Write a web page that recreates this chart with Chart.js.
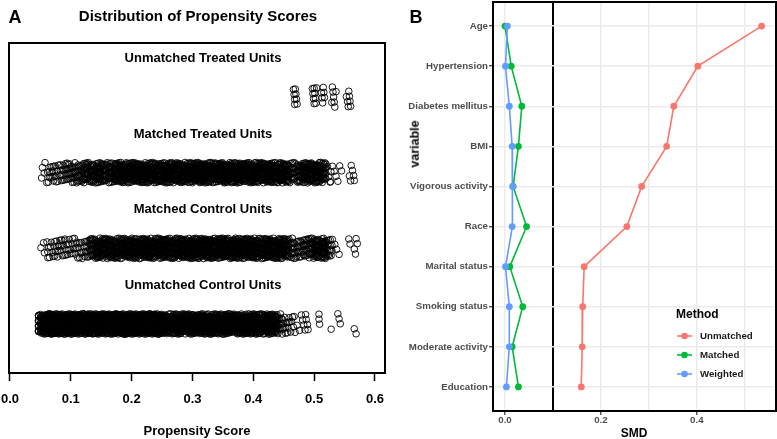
<!DOCTYPE html>
<html>
<head>
<meta charset="utf-8">
<script src="https://cdn.jsdelivr.net/npm/chart.js@4.4.0/dist/chart.umd.min.js"></script>
<style>
body{margin:0;background:#fff;font-family:"Liberation Sans",Arial,sans-serif;}
#wrap{position:relative;width:777px;height:439px;overflow:hidden;background:#fff;}
.pane{position:absolute;top:0;}
.t{position:absolute;white-space:nowrap;font-weight:bold;line-height:1;transform:translate(-50%,-50%);color:#000;}
</style>
</head>
<body>
<div id="wrap">
  <div class="pane" style="left:0;width:390px;height:439px"><canvas id="psChart" width="390" height="439"></canvas></div>
  <div class="pane" style="left:390px;width:387px;height:439px"><canvas id="smdChart" width="387" height="439"></canvas></div>
  <div class="t" style="left:15px;top:17px;font-size:18px">A</div>
  <div class="t" style="left:198px;top:15px;font-size:15px">Distribution of Propensity Scores</div>
  <div class="t" style="left:197px;top:430px;font-size:13px">Propensity Score</div>
  <div class="t" style="left:416px;top:17px;font-size:18px">B</div>
  <div class="t" style="left:634px;top:433px;font-size:12px">SMD</div>
  <div class="t" style="left:415px;top:144px;font-size:12.5px;transform:translate(-50%,-50%) rotate(-90deg)">variable</div>
</div>
<script>
// PANEL A - jittered propensity scores
// left edges of 0.01 wide bins
const psBins = [0.05,0.06,0.07,0.08,0.09,0.10,0.11,0.12,0.13,0.14,
                0.15,0.16,0.17,0.18,0.19,0.20,0.21,0.22,0.23,0.24,
                0.25,0.26,0.27,0.28,0.29,0.30,0.31,0.32,0.33,0.34,
                0.35,0.36,0.37,0.38,0.39,0.40,0.41,0.42,0.43,0.44,
                0.45,0.46,0.47,0.48,0.49,0.50,0.51,0.52];
// points per bin
const matchedTreatedCounts = [4,9,10,12,15,16,18,26,30,32, 24,26,34,36,34,36,38,36,34,36,
                              36,38,36,34,36,38,40,38,36,36, 38,40,38,36,38,36,34,36,34,36,
                              30,18,26,34,34,34,30,3];
const matchedControlCounts = [3,8,9,10,9,9,10,12,26,30, 32,34,34,32,34,36,34,34,36,34,
                              34,36,34,36,38,36,38,38,36,38, 36,38,36,36,38,36,34,36,34,34,
                              32,16,14,16,20,32,34,14];
const unmatchedControlCounts = [45,60,60,60,60,60,60,60,60,60, 60,60,60,60,60,60,60,60,60,56,
                                40,38,40,42,44,44,46,42,44,44, 46,42,40,44,46,44,42,44,40,14,
                                9,7,0,0,0,0,0,0];
// sparse points outside the bins
const unmatchedTreatedScores = [0.466,0.467,0.468,0.468,0.469,0.470,0.471,0.472,
                                0.497,0.498,0.499,0.500,0.500,0.501,0.502,0.503,0.504,
                                0.512,0.513,0.514,0.515,0.516,0.517,
                                0.529,0.530,0.531,0.532,0.533,0.534,0.536,
                                0.553,0.555,0.556,0.557,0.558,0.559,0.560];
const matchedTreatedExtra = [0.524,0.527,0.530,0.533,0.536,0.539,0.542,0.545,
                             0.558,0.560,0.561,0.563,0.565,0.566];
const matchedControlExtra = [0.530,0.534,0.537,0.541,0.557,0.559,0.566,0.568,0.569,0.571];
const unmatchedControlExtra = [0.047,0.047,0.047,0.047,0.047,0.047,0.047,0.047,0.047,0.047,0.047,0.047,
                               0.472,0.476,0.479,0.481,0.483,0.485,0.486,0.487,0.489,0.490,
                               0.508,0.508,0.509,0.528,0.539,0.541,0.543,0.566,0.569];
const psRows = ['Unmatched Control Units','Matched Control Units','Matched Treated Units','Unmatched Treated Units'];
const psTicks = [0.0,0.1,0.2,0.3,0.4,0.5,0.6];

// PANEL B - standardised mean differences
const varNames = ['Age','Hypertension','Diabetes mellitus','BMI','Vigorous activity',
                  'Race','Marital status','Smoking status','Moderate activity','Education'];
const smdUnmatched = [0.535,0.402,0.352,0.337,0.285,0.254,0.165,0.162,0.161,0.159];
const smdMatched   = [0.000,0.013,0.035,0.028,0.017,0.045,0.010,0.037,0.015,0.028];
const smdWeighted  = [0.005,0.001,0.009,0.015,0.016,0.015,0.001,0.009,0.009,0.003];
const methods = ['Unmatched','Matched','Weighted'];
const methodColors = ['#F8766D','#00BA38','#619CFF'];
const smdTicks = [0.0,0.1,0.2,0.3,0.4,0.5];

// deterministic jitter (R uses runif, we just spread them evenly)
const frac = v => v - Math.floor(v);
let k = 0;
function jit(row){ k++; return row + 0.135*(2*frac(0.5 + k*0.7548777) - 1); }
function rowPoints(row, counts, extra){
  const pts = [];
  counts.forEach((n,b)=>{
    for(let i=0;i<n;i++){
      const y = jit(row);
      pts.push({x: psBins[b] + 0.01*frac(0.5 + k*0.5698403), y});
    }
  });
  extra.forEach(v=>{ const y = jit(row); pts.push({x:v, y}); });
  return pts;
}

const psData = [
  rowPoints(1, unmatchedControlCounts, unmatchedControlExtra),
  rowPoints(2, matchedControlCounts, matchedControlExtra),
  rowPoints(3, matchedTreatedCounts, matchedTreatedExtra),
  rowPoints(4, [], unmatchedTreatedScores)
];

// no extra room for overhanging tick labels
const noPad = s => { s.paddingLeft = 0; s.paddingRight = 0; s.paddingTop = 0; s.paddingBottom = 0; };

const boxPlugin = {
  id:'box',
  afterDatasetsDraw(chart){
    const {ctx, chartArea:a} = chart;
    ctx.save();
    ctx.strokeStyle = '#000';
    ctx.lineWidth = 2;
    ctx.strokeRect(a.left, a.top, a.right-a.left, a.bottom-a.top);
    ctx.restore();
  }
};

const rowLabels = {
  id:'rowLabels',
  afterDraw(chart){
    const {ctx, chartArea:a, scales} = chart;
    ctx.save();
    ctx.font = 'bold 13px "Liberation Sans", Arial, sans-serif';
    ctx.fillStyle = '#000';
    ctx.textAlign = 'center';
    ctx.textBaseline = 'middle';
    psRows.forEach((r,i)=>{
      ctx.fillText(r, (a.left+a.right)/2 + 6, scales.y.getPixelForValue(i + 1.51));
    });
    ctx.restore();
  }
};

new Chart(document.getElementById('psChart'), {
  type:'scatter',
  data:{datasets: psData.map(d=>({
    data:d, pointRadius:3.3, pointBorderWidth:0.9,
    pointBorderColor:'#000', pointBackgroundColor:'rgba(0,0,0,0)'
  }))},
  options:{
    responsive:false, animation:false, devicePixelRatio:1,
    layout:{autoPadding:false, padding:{left:9, right:5, top:43, bottom:0}},
    plugins:{legend:{display:false}, tooltip:{enabled:false}},
    scales:{
      x:{type:'linear', min:-0.0016, max:0.6165,
        afterBuildTicks: s=>{ s.ticks = psTicks.map(v=>({value:v})); },
        afterFit: s=>{ s.height = 66; noPad(s); },
        border:{display:false},
        grid:{drawOnChartArea:false, drawTicks:true, tickLength:8, tickWidth:1.5, tickColor:'#000'},
        ticks:{color:'#000', padding:11, maxRotation:0, font:{family:'"Liberation Sans", Arial, sans-serif', size:13, weight:'bold'},
          callback: v=>v.toFixed(1)}
      },
      y:{type:'linear', display:false, min:0.352, max:4.714}
    }
  },
  plugins:[boxPlugin, rowLabels]
});

// legend drawn inside panel B
const methodLegend = {
  id:'methodLegend',
  afterDraw(chart){
    const ctx = chart.ctx;
    ctx.save();
    ctx.fillStyle = '#000';
    ctx.textBaseline = 'middle';
    ctx.textAlign = 'left';
    ctx.font = 'bold 12px "Liberation Sans", Arial, sans-serif';
    ctx.fillText('Method', 286, 315);
    ctx.font = 'bold 9.7px "Liberation Sans", Arial, sans-serif';
    methods.forEach((m,i)=>{
      const y = 336 + i*19;
      ctx.strokeStyle = methodColors[i];
      ctx.lineWidth = 1.6;
      ctx.beginPath(); ctx.moveTo(287,y); ctx.lineTo(302,y); ctx.stroke();
      ctx.fillStyle = methodColors[i];
      ctx.beginPath(); ctx.arc(294.5,y,3.3,0,Math.PI*2); ctx.fill();
      ctx.fillStyle = '#1a1a1a';
      ctx.fillText(m, 310, y);
    });
    ctx.restore();
  }
};

const smdSeries = [smdUnmatched, smdMatched, smdWeighted];
const isMajor = v => Math.abs(v*10 - Math.round(v*5)*2) < 1e-6;
const isCut = v => Math.abs(v - 0.1) < 1e-6;

new Chart(document.getElementById('smdChart'), {
  type:'line',
  data:{datasets: methods.map((m,i)=>({
    label:m,
    data: smdSeries[i].map((v,j)=>({x:v, y:j+1})),
    borderColor:methodColors[i], backgroundColor:methodColors[i],
    pointBackgroundColor:methodColors[i], pointBorderColor:methodColors[i],
    borderWidth:1.6, pointRadius:3.4, pointBorderWidth:0, tension:0,
    order:3-i
  }))},
  options:{
    responsive:false, animation:false, devicePixelRatio:1,
    layout:{autoPadding:false, padding:{left:0, right:1, top:2, bottom:0}},
    plugins:{legend:{display:false}, tooltip:{enabled:false}},
    scales:{
      x:{type:'linear', min:-0.025, max:0.565,
        afterBuildTicks: s=>{ s.ticks = smdTicks.map(v=>({value:v})); },
        afterFit: s=>{ s.height = 28; noPad(s); },
        border:{display:false},
        grid:{
          color: c=> (c.tick && isCut(c.tick.value)) ? '#000' : '#EBEBEB',
          lineWidth: c=> (c.tick && isCut(c.tick.value)) ? 2 : 1.5,
          drawTicks:true, tickLength:4, tickWidth:1.2,
          tickColor: c=> (c.tick && isMajor(c.tick.value)) ? '#333333' : 'rgba(0,0,0,0)'
        },
        ticks:{color:'#4D4D4D', padding:0, maxRotation:0,
          font:{family:'"Liberation Sans", Arial, sans-serif', size:9.7, weight:'bold'},
          callback: v=> isMajor(v) ? v.toFixed(1) : ''}
      },
      y:{type:'linear', min:0.4, max:10.6, reverse:true,
        afterBuildTicks: s=>{ s.ticks = varNames.map((n,i)=>({value:i+1})); },
        afterFit: s=>{ s.width = 103; noPad(s); },
        border:{display:false},
        grid:{color:'#EBEBEB', lineWidth:1.5, drawTicks:true, tickLength:4, tickWidth:1.2, tickColor:'#333333'},
        ticks:{color:'#4D4D4D', padding:1,
          font:{family:'"Liberation Sans", Arial, sans-serif', size:9.7, weight:'bold'},
          callback: v=> varNames[v-1]}
      }
    }
  },
  plugins:[boxPlugin, methodLegend]
});
</script>
</body>
</html>
